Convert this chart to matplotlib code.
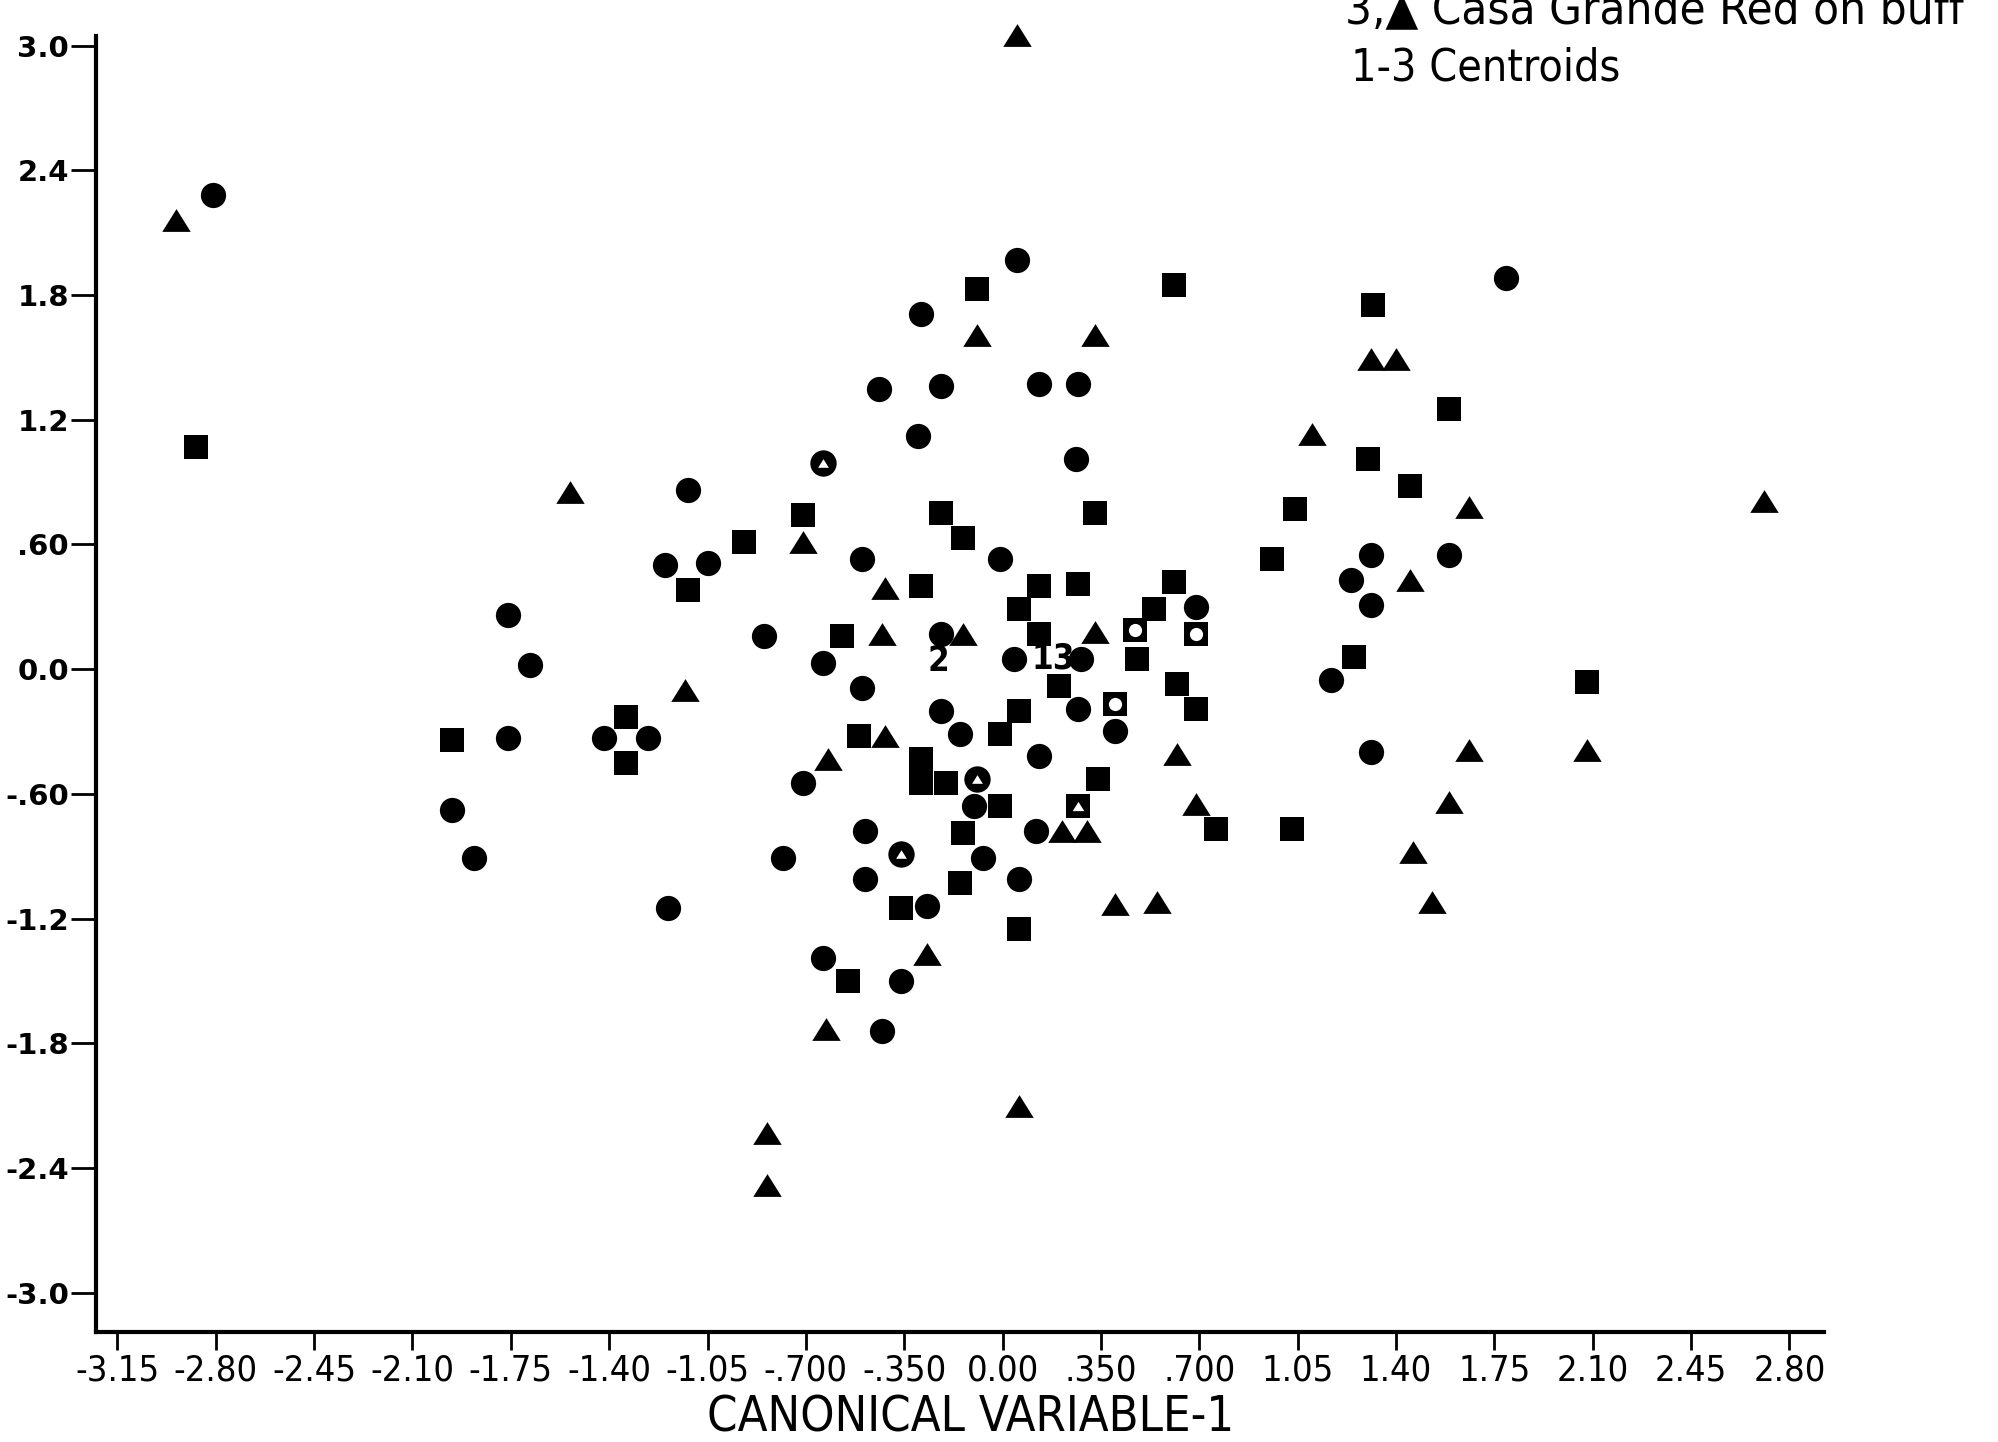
import matplotlib
matplotlib.use("Agg")
from matplotlib import pyplot as plt

narrow = "DejaVu Sans"

# group 1 (filled circles)
circ_x = [-2.81, 0.05, 1.79, -0.29, -0.44, -0.22, 0.13, 0.27, -0.30, 0.26,
          -1.12, -1.20, -1.05, -0.50, -0.01, 1.31, 1.59, 1.24, 1.31, -1.76,
          -0.85, -0.22, 0.69, -1.68, -0.64, 0.04, 0.28, -0.50, 1.17, -0.22,
          0.27, -1.42, -1.26, -1.76, -0.15, 0.40, 1.31, 0.13, -0.71, -0.10,
          -1.96, -1.88, -0.78, -0.49, -0.07, 0.12, -0.49, 0.06, -0.27, -1.19,
          -0.64, -0.36, -0.43]
circ_y = [2.28, 1.97, 1.88, 1.71, 1.35, 1.36, 1.37, 1.37, 1.12, 1.01,
          0.86, 0.50, 0.51, 0.53, 0.53, 0.55, 0.55, 0.43, 0.31, 0.26,
          0.16, 0.17, 0.30, 0.02, 0.03, 0.05, 0.05, -0.09, -0.05, -0.20,
          -0.19, -0.33, -0.33, -0.33, -0.31, -0.30, -0.40, -0.42, -0.55, -0.66,
          -0.68, -0.91, -0.91, -0.78, -0.91, -0.78, -1.01, -1.01, -1.14, -1.15,
          -1.39, -1.50, -1.74]

# group 2 (filled squares)
sq_x = [-2.87, -0.09, 0.61, 1.32, 1.59, 1.30, 1.45, -0.71, -0.22, 0.33,
        1.04, -0.92, -0.14, 0.96, -1.12, -0.29, 0.13, 0.27, 0.61, -0.57,
        0.06, 0.13, 0.54, 0.48, 1.25, 0.62, 0.20, 2.08, -1.34, -1.96,
        -1.34, -0.51, -0.01, 0.06, 0.69, -0.29, -0.29, -0.20, 0.34, -0.01,
        -0.14, 1.03, 0.76, -0.15, -0.36, 0.06, -0.55]
sq_y = [1.07, 1.83, 1.85, 1.75, 1.25, 1.01, 0.88, 0.74, 0.75, 0.75,
        0.77, 0.61, 0.63, 0.53, 0.38, 0.40, 0.40, 0.41, 0.42, 0.16,
        0.29, 0.17, 0.29, 0.05, 0.06, -0.07, -0.08, -0.06, -0.23, -0.34,
        -0.45, -0.32, -0.31, -0.20, -0.19, -0.43, -0.55, -0.55, -0.53, -0.66,
        -0.79, -0.77, -0.77, -1.03, -1.15, -1.25, -1.50]

# group 3 (filled triangles)
tri_x = [-2.94, 0.05, -0.09, 0.33, 1.10, 1.31, 1.40, -1.54, 2.71, 1.66,
         -0.71, -0.42, 1.45, -0.43, -0.14, 0.33, -1.13, -0.42, 1.66, 2.08,
         -0.62, 0.62, 1.59, 0.69, 0.21, 0.30, 1.46, -0.27, 0.40, 0.55,
         1.53, -0.63, 0.06, -0.84, -0.84]
tri_y = [2.16, 3.05, 1.61, 1.61, 1.13, 1.49, 1.49, 0.85, 0.81, 0.78,
         0.61, 0.39, 0.43, 0.17, 0.17, 0.18, -0.10, -0.32, -0.39, -0.39,
         -0.43, -0.41, -0.64, -0.65, -0.78, -0.78, -0.88, -1.37, -1.13, -1.12,
         -1.12, -1.73, -2.10, -2.23, -2.48]

# centroid markers
cent_ct_x = [-0.64, -0.09, -0.36]
cent_ct_y = [0.99, -0.53, -0.89]
cent_sc_x = [0.47, 0.69, 0.40]
cent_sc_y = [0.19, 0.17, -0.17]
cent_st_x = [0.27]
cent_st_y = [-0.66]

cent_labels = ["2", "13"]
cent_lab_x = [-0.23, 0.18]
cent_lab_y = [0.04, 0.05]

xticks = [-3.15, -2.80, -2.45, -2.10, -1.75, -1.40, -1.05, -0.70, -0.35, 0.0,
          0.35, 0.70, 1.05, 1.40, 1.75, 2.10, 2.45, 2.80]
xtick_labels = ["-3.15", "-2.80", "-2.45", "-2.10", "-1.75", "-1.40", "-1.05",
                "-.700", "-.350", "0.00", ".350", ".700", "1.05", "1.40",
                "1.75", "2.10", "2.45", "2.80"]
yticks = [3.0, 2.4, 1.8, 1.2, 0.6, 0.0, -0.6, -1.2, -1.8, -2.4, -3.0]
ytick_labels = ["3.0", "2.4", "1.8", "1.2", ".60", "0.0", "-.60", "-1.2",
                "-1.8", "-2.4", "-3.0"]

fig = plt.figure(figsize=(19.98, 14.42), dpi=100)
ax = fig.add_axes([0.0478, 0.0766, 0.8652, 0.8984])
ax.set_xlim(-3.228, 2.924)
ax.set_ylim(-3.187, 3.046)

tri = [(0, 0.8), (-1, -0.8), (1, -0.8)]

ax.scatter(circ_x, circ_y, s=330, marker="o", c="black", linewidths=0, clip_on=False)
ax.scatter(sq_x, sq_y, s=290, marker="s", c="black", linewidths=0, clip_on=False)
ax.scatter(tri_x, tri_y, s=420, marker=tri, c="black", linewidths=0, clip_on=False)

ax.scatter(cent_ct_x, cent_ct_y, s=360, marker="o", c="black", linewidths=0)
ax.scatter(cent_ct_x, cent_ct_y, s=60, marker=tri, c="white", linewidths=0)
ax.scatter(cent_sc_x, cent_sc_y, s=300, marker="s", c="black", linewidths=0)
ax.scatter(cent_sc_x, cent_sc_y, s=90, marker="o", c="white", linewidths=0)
ax.scatter(cent_st_x, cent_st_y, s=300, marker="s", c="black", linewidths=0)
ax.scatter(cent_st_x, cent_st_y, s=70, marker=tri, c="white", linewidths=0)

for lab, x, y in zip(cent_labels, cent_lab_x, cent_lab_y):
    ax.text(x, y, lab, fontsize=25, family=narrow, fontstretch="condensed",
            fontweight="bold", ha="center", va="center")

for side in ["top", "right"]:
    ax.spines[side].set_visible(False)
for side in ["left", "bottom"]:
    ax.spines[side].set_linewidth(3)

ax.set_xticks(xticks)
ax.set_xticklabels(xtick_labels, family=narrow, fontstretch="condensed", fontsize=26)
ax.set_yticks(yticks)
ax.set_yticklabels(ytick_labels, fontweight="bold", fontsize=21)
ax.tick_params(axis="x", length=13, width=2, pad=3)
ax.tick_params(axis="y", length=18, width=2, pad=1)

fig.text(0.486, 0.0173, "CANONICAL VARIABLE-1", family=narrow,
         fontstretch="condensed", fontsize=35, ha="center", va="center")
fig.text(0.673, 0.984, "3,\u25b2 Casa Grande Red on buff", family=narrow,
         fontstretch="condensed", fontsize=34, ha="left", va="baseline")
fig.text(0.676, 0.9445, "1-3 Centroids", family=narrow, fontstretch="condensed",
         fontsize=32, ha="left", va="baseline")

fig.savefig("out.png", dpi=100)
